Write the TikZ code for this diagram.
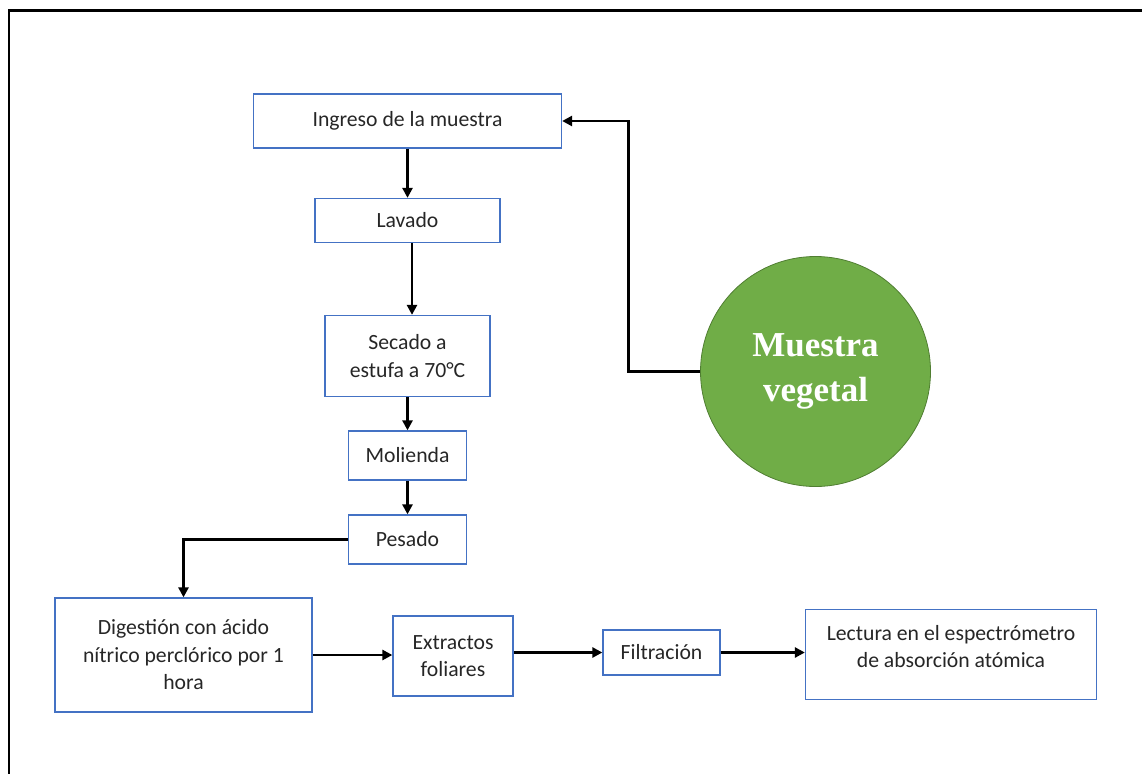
\documentclass[tikz,border=0pt]{standalone}
\usepackage{fontspec}
\setmainfont{Carlito}
\newfontfamily\circfont{Liberation Serif}
\usepackage{xcolor}
\usetikzlibrary{positioning,arrows.meta,shapes.geometric,calc}
\definecolor{boxblue}{HTML}{4472C4}
\definecolor{leaf}{HTML}{70AD47}
\definecolor{leafdark}{HTML}{507E32}
\tikzset{
  stepbox/.style={draw=boxblue, line width=1.3pt, inner sep=0pt, align=center, text=black!85, font=\fontsize{21.7}{27.5}\selectfont},
  steptxt/.style={inner sep=0pt, align=center, text=black!85, font=\fontsize{21.7}{27.5}\selectfont},
  sample/.style={circle, draw=leafdark, fill=leaf, line width=0.8pt, minimum size=230pt, inner sep=0pt, align=center, text=white, font=\circfont\bfseries\fontsize{35}{45}\selectfont},
  flow/.style={-{Triangle[length=10pt,width=10pt]}, line width=2.8pt},
  frame/.style={line width=2.2pt},
}

\begin{document}
\begin{tikzpicture}[x=1pt,y=-1pt]
  \useasboundingbox (0,0) rectangle (1142,773);
  \draw[frame] (9,780) -- (9,10.5) -- (1150,10.5);

  % main column
  \node[stepbox, minimum width=308, minimum height=54] (ing) at (407.5,121) {Ingreso de la muestra};
  \node[stepbox, minimum width=185, minimum height=44] (lav) at (407.5,220.5) {Lavado};
  \node[stepbox, minimum width=165, minimum height=81] (sec) at (407.5,356) {Secado a\\estufa a 70°C};
  \node[stepbox, minimum width=118, minimum height=49] (mol) at (407.5,455.5) {Molienda};
  \node[stepbox, minimum width=118, minimum height=49] (pes) at (407.5,539.5) {Pesado};

  % bottom row
  \node[stepbox, minimum width=257, minimum height=114] (dig) at (183.5,655) {Digestión con ácido\\nítrico perclórico por 1\\hora};
  \node[stepbox, minimum width=120, minimum height=80] (ext) at (453,656) {Extractos\\foliares};
  \node[stepbox, minimum width=117, minimum height=45] (fil) at (661.5,652.5) {Filtración};
  \node[stepbox, minimum width=291, minimum height=90,
        label={[steptxt, anchor=center, yshift=8pt]center:Lectura en el espectrómetro\\de absorción atómica}] (lec) at (951,654.5) {};

  \node[sample] (veg) at (815.5,371.5) {Muestra\\vegetal};

  \draw[flow] (ing) -- (lav);
  \draw[flow] ([xshift=4.5pt]lav.south) -- ([xshift=4.5pt]sec.north);
  \draw[flow] (sec) -- (mol);
  \draw[flow] (mol) -- (pes);
  \draw[flow] (pes.west) -| (dig.north);
  \draw[flow] (dig.east) -- (dig.east -| ext.west);
  \draw[flow] (ext.east |- fil.west) -- (fil.west);
  \draw[flow] (fil.east) -- (fil.east -| lec.west);
  \draw[flow] (veg.west) -- ++(-72,0) |- (ing.east);
\end{tikzpicture}
\end{document}
